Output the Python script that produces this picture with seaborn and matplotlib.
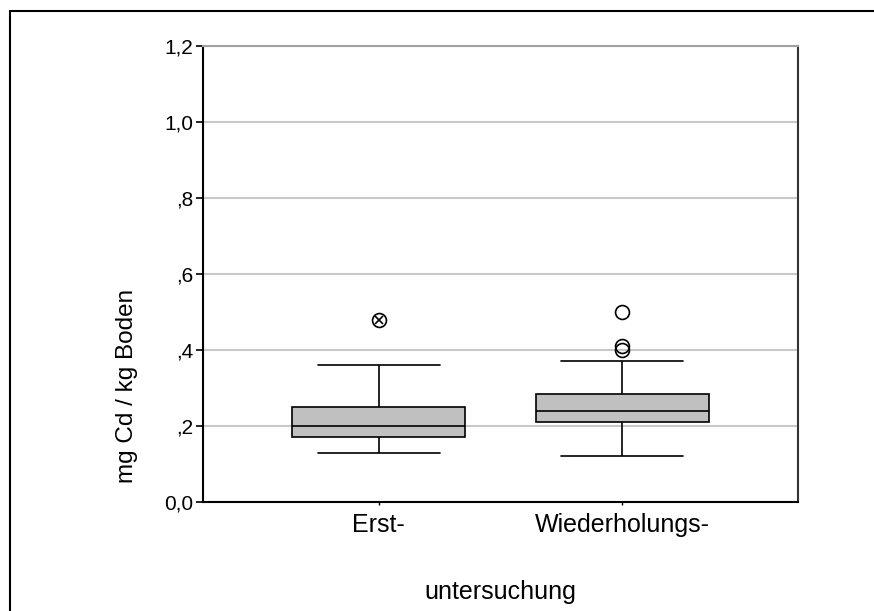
import matplotlib
matplotlib.use("Agg")
import matplotlib.pyplot as plt
from matplotlib.lines import Line2D
import numpy as np
import pandas as pd
import seaborn as sns

groups = ["Erst-", "Wiederholungs-"]
erst_values = [0.13, 0.15, 0.17, 0.18, 0.20, 0.22, 0.25, 0.36, 0.48]
wdh_values = [0.12, 0.16, 0.19, 0.20, 0.21, 0.22, 0.23, 0.235, 0.24,
              0.25, 0.26, 0.27, 0.285, 0.37, 0.40, 0.41, 0.50]
erst_extremes = [0.48]          # SPSS-Extremwert (Stern)

y_ticks = [0.0, 0.2, 0.4, 0.6, 0.8, 1.0, 1.2]
y_ticklabels = ["0,0", ",2", ",4", ",6", ",8", "1,0", "1,2"]

df = pd.DataFrame({
    "gruppe": [groups[0]] * len(erst_values) + [groups[1]] * len(wdh_values),
    "wert": erst_values + wdh_values,
})

# ── Plot ──────────────────────────────────────────────────────
sns.set_theme(style="white")
plt.rcParams["font.family"] = ["Liberation Sans", "DejaVu Sans"]
plt.rcParams["text.color"] = "black"
plt.rcParams["xtick.color"] = "black"
plt.rcParams["ytick.color"] = "black"
plt.rcParams["axes.labelcolor"] = "black"

fig = plt.figure(figsize=(8.74, 6.11), dpi=100)
ax = fig.add_axes([203 / 874, 1 - 502 / 611, (798 - 203) / 874, (502 - 46) / 611])

sns.boxplot(
    data=df, x="gruppe", y="wert", order=groups, ax=ax,
    color="#c0c0c0", saturation=1, width=0.71, linecolor="black",
    linewidth=1.2, fliersize=10, whis=1.5,
    flierprops=dict(marker="o", markerfacecolor="none",
                    markeredgecolor="black", markeredgewidth=1.2),
    capwidths=0.5, zorder=3,
)
ax.plot([0] * len(erst_extremes), erst_extremes, marker="x", ls="none",
        color="black", ms=6, mew=1.2, zorder=4)

ax.set_xlim(-0.72, 1.72)
ax.set_ylim(0, 1.2)
ax.set_yticks(y_ticks)
ax.set_yticklabels(y_ticklabels, fontsize=15)
ax.tick_params(axis="y", length=5, width=1.2, color="black", pad=2, left=True)
ax.tick_params(axis="x", length=2, width=1, color="black", labelsize=18,
               pad=6, bottom=True)
ax.set_xlabel("")
ax.set_ylabel("")

ax.yaxis.grid(True, color="#c8c8c8", lw=1.5, zorder=0)
ax.set_axisbelow(True)
for side in ["left", "bottom"]:
    ax.spines[side].set_color("black")
    ax.spines[side].set_linewidth(1.5)
ax.spines["right"].set_color("#333333")
ax.spines["right"].set_linewidth(1.5)
ax.spines["top"].set_color("#a0a0a0")
ax.spines["top"].set_linewidth(1.5)

fig.text(127 / 874, 1 - 386 / 611, "mg Cd / kg Boden", rotation=90,
         ha="center", va="center", fontsize=17.5, color="black")
fig.text(500 / 874, 1 - 592 / 611, "untersuchung",
         ha="center", va="center", fontsize=18, color="black")

# äußerer Rahmen
fx, fy = 9.5 / 874, 1 - 11 / 611
fig.add_artist(Line2D([fx, fx], [0, fy], color="black", lw=1.5,
                      transform=fig.transFigure))
fig.add_artist(Line2D([fx, 1], [fy, fy], color="black", lw=1.5,
                      transform=fig.transFigure))

fig.savefig("out.png", dpi=100)
